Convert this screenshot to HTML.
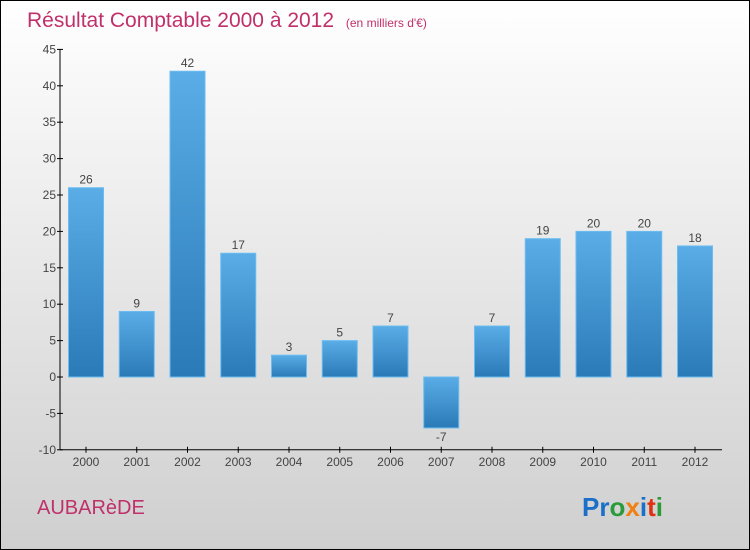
<!DOCTYPE html>
<html><head><meta charset="utf-8"><style>
body{margin:0}
#c{width:750px;height:550px;position:relative;overflow:hidden;font-family:"Liberation Sans",sans-serif}
</style></head><body>
<div id="c">
<svg width="750" height="550" xmlns="http://www.w3.org/2000/svg" id="svg">
<defs>
<linearGradient id="bg" x1="0" y1="0" x2="0" y2="1"><stop offset="0" stop-color="#ffffff"/><stop offset="1" stop-color="#cfcfcf"/></linearGradient>
<linearGradient id="bar" x1="0" y1="0" x2="0" y2="1"><stop offset="0" stop-color="#5aade6"/><stop offset="1" stop-color="#2a7ab8"/></linearGradient>
</defs>
<rect x="0.5" y="0.5" width="749" height="549" fill="url(#bg)" stroke="#000"/>
<text x="27" y="27" font-size="21" fill="#c0306a">Résultat Comptable 2000 à 2012 <tspan font-size="12" dx="6">(en milliers d'€)</tspan></text>
<g id="axes"></g>
<g id="bars"></g>
<text x="37" y="514" font-size="20" fill="#c0306a">AUBARèDE</text>
<text x="582" y="516" font-size="26" font-weight="bold"><tspan fill="#1a6fc8">Pr</tspan><tspan fill="#2a9a3a">o</tspan><tspan fill="#f08010">x</tspan><tspan fill="#1a6fc8">i</tspan><tspan fill="#e03010">t</tspan><tspan fill="#2a9a3a">i</tspan></text>
</svg>
</div>
<script>
const years=["2000","2001","2002","2003","2004","2005","2006","2007","2008","2009","2010","2011","2012"];
const values=[26,9,42,17,3,5,7,-7,7,19,20,20,18];
const yTicks=[-10,-5,0,5,10,15,20,25,30,35,40,45];
const NS="http://www.w3.org/2000/svg";
const y0=377,ppu=7.28,x0=86,step=50.75,bw=35,axX=60;
const Y=v=>y0-v*ppu, X=i=>x0+i*step;
function mk(t,a,p){const e=document.createElementNS(NS,t);for(const k in a)e.setAttribute(k,a[k]);p.appendChild(e);return e;}
const ax=document.getElementById('axes'),bg=document.getElementById('bars');
const ya=mk('line',{x1:axX,y1:Y(45),x2:axX,y2:Y(-10),stroke:'#000'},ax);


const xa=mk('line',{x1:axX,y1:Y(-10),x2:722,y2:Y(-10),stroke:'#000'},ax);


yTicks.forEach(v=>{
 mk('line',{x1:axX-3,y1:Y(v),x2:axX+3,y2:Y(v),stroke:'#000'},ax);
 const t=mk('text',{x:axX-4,y:Y(v)+4,'font-size':12,fill:'#444','text-anchor':'end'},ax);
 t.textContent=v;
 
 
});
years.forEach((yr,i)=>{
 mk('line',{x1:X(i),y1:Y(-10)-3,x2:X(i),y2:Y(-10)+3,stroke:'#000'},ax);
 const t=mk('text',{x:X(i),y:Y(-10)+16,'font-size':12,fill:'#444','text-anchor':'middle'},ax);
 t.textContent=yr;
 
 
 const v=values[i];
 const r=mk('rect',{x:X(i)-bw/2,y:Math.min(Y(v),y0),width:bw,height:Math.abs(Y(v)-y0),fill:'url(#bar)',stroke:'#6bbcf0','stroke-width':1},bg);
 
 
 const l=mk('text',{x:X(i),y:v>=0?Y(v)-4:Y(v)+13,'font-size':12,fill:'#444','text-anchor':'middle'},bg);
 l.textContent=v;
 
 
});
</script>
</body></html>
